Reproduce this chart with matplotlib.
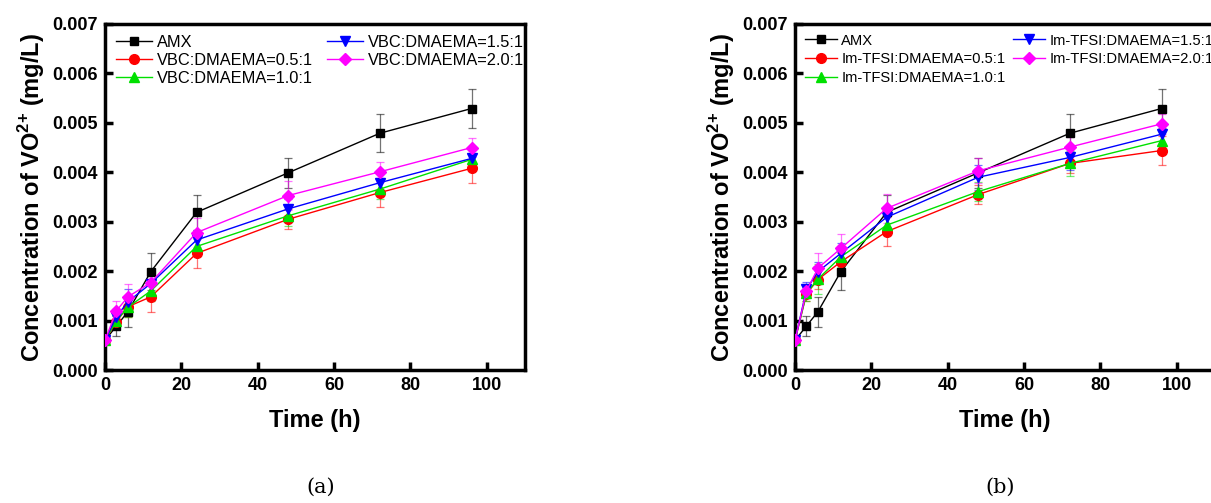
import matplotlib
matplotlib.use('Agg')
import matplotlib.pyplot as plt
from matplotlib.ticker import FormatStrFormatter

plt.rcParams['font.family'] = ['Liberation Sans', 'DejaVu Sans']
plt.rcParams['mathtext.fontset'] = 'custom'
plt.rcParams['mathtext.bf'] = 'Liberation Sans:bold'
plt.rcParams['mathtext.rm'] = 'Liberation Sans:bold'

# time points (h)
t = [0, 3, 6, 12, 24, 48, 72, 96]

# panel (a): VBC:DMAEMA
amx = [0.00060, 0.00089, 0.00118, 0.00199, 0.00319, 0.00399, 0.00479, 0.00529]
amx_err = [0.00005, 0.00020, 0.00030, 0.00037, 0.00035, 0.00030, 0.00038, 0.00039]
a_05 = [0.00060, 0.00098, 0.00128, 0.00148, 0.00236, 0.00305, 0.00359, 0.00408]
a_05_err = [0.00005, 0.00015, 0.00020, 0.00030, 0.00030, 0.00020, 0.00030, 0.00030]
a_10 = [0.00060, 0.00100, 0.00127, 0.00160, 0.00250, 0.00312, 0.00366, 0.00426]
a_10_err = [0.00005, 0.00015, 0.00020, 0.00020, 0.00020, 0.00020, 0.00020, 0.00020]
a_15 = [0.00060, 0.00108, 0.00138, 0.00175, 0.00263, 0.00326, 0.00379, 0.00428]
a_15_err = [0.00005, 0.00015, 0.00025, 0.00020, 0.00020, 0.00020, 0.00020, 0.00020]
a_20 = [0.00060, 0.00120, 0.00148, 0.00177, 0.00278, 0.00353, 0.00401, 0.00450]
a_20_err = [0.00005, 0.00020, 0.00027, 0.00020, 0.00030, 0.00030, 0.00020, 0.00020]

# panel (b): Im-TFSI:DMAEMA
b_05 = [0.00060, 0.00154, 0.00183, 0.00219, 0.00280, 0.00355, 0.00418, 0.00444]
b_05_err = [0.00005, 0.00015, 0.00020, 0.00020, 0.00030, 0.00020, 0.00020, 0.00029]
b_10 = [0.00060, 0.00155, 0.00184, 0.00229, 0.00293, 0.00361, 0.00418, 0.00464]
b_10_err = [0.00005, 0.00015, 0.00030, 0.00020, 0.00020, 0.00020, 0.00025, 0.00020]
b_15 = [0.00060, 0.00163, 0.00199, 0.00236, 0.00309, 0.00390, 0.00430, 0.00477]
b_15_err = [0.00005, 0.00015, 0.00020, 0.00020, 0.00020, 0.00025, 0.00025, 0.00020]
b_20 = [0.00060, 0.00160, 0.00206, 0.00246, 0.00327, 0.00403, 0.00451, 0.00498]
b_20_err = [0.00005, 0.00015, 0.00030, 0.00030, 0.00030, 0.00025, 0.00020, 0.00020]

cores = ['black', 'red', '#00e000', 'blue', 'magenta']
markers = ['s', 'o', '^', 'v', 'D']
msizes = [6, 7, 7, 7, 6]
ratios = ['0.5:1', '1.0:1', '1.5:1', '2.0:1']

fig = plt.figure(figsize=(12.11, 5.03), dpi=100)
ax_a = fig.add_axes([0.0867, 0.2644, 0.3468, 0.6879])
ax_b = fig.add_axes([0.6565, 0.2644, 0.3468, 0.6879])

# axes, prefix, series, errors, caption, caption x, legend font, row spacing, column spacing
paineis = [
    (ax_a, 'VBC:DMAEMA=', [amx, a_05, a_10, a_15, a_20], [amx_err, a_05_err, a_10_err, a_15_err, a_20_err], '(a)', 0.265, 11.8, 0.18, 0.9),
    (ax_b, 'Im-TFSI:DMAEMA=', [amx, b_05, b_10, b_15, b_20], [amx_err, b_05_err, b_10_err, b_15_err, b_20_err], '(b)', 0.826, 10.6, 0.32, 0.5),
]

for ax, prefixo, series, erros, letra, xl, fs, ls, cs in paineis:
    nomes = ['AMX'] + [prefixo + r for r in ratios]
    for i in range(5):
        ax.errorbar(t, series[i], yerr=erros[i], fmt='none', ecolor=cores[i],
                    elinewidth=0.9, capsize=3, capthick=0.9, alpha=0.55, zorder=2)
        ax.plot(t, series[i], color=cores[i], linewidth=1.0, marker=markers[i],
                markersize=msizes[i], label=nomes[i], zorder=3)
    ax.set_xlim(0, 110)
    ax.set_ylim(0, 0.007)
    ax.set_xticks([0, 20, 40, 60, 80, 100])
    ax.set_yticks([0.000, 0.001, 0.002, 0.003, 0.004, 0.005, 0.006, 0.007])
    ax.yaxis.set_major_formatter(FormatStrFormatter('%.3f'))
    ax.tick_params(direction='in', length=6, width=2.5, labelsize=13, pad=5)
    for lab in ax.get_xticklabels() + ax.get_yticklabels():
        lab.set_fontweight('bold')
    for s in ax.spines.values():
        s.set_linewidth(2.5)
    ax.set_xlabel('Time (h)', fontsize=17, fontweight='bold', labelpad=11)
    ax.set_ylabel(r'Concentration of VO$^{\mathbf{2{+}}}$ (mg/L)', fontsize=17, fontweight='bold', labelpad=4)
    ax.legend(loc='upper left', ncol=2, frameon=False, fontsize=fs, handlelength=2.2,
              handletextpad=0.3, columnspacing=cs, labelspacing=ls,
              borderaxespad=0.35, borderpad=0.3)
    fig.text(xl, 0.012, letra, family='DejaVu Serif', fontsize=15, ha='center', va='bottom')

plt.savefig('out.png', dpi=100)
